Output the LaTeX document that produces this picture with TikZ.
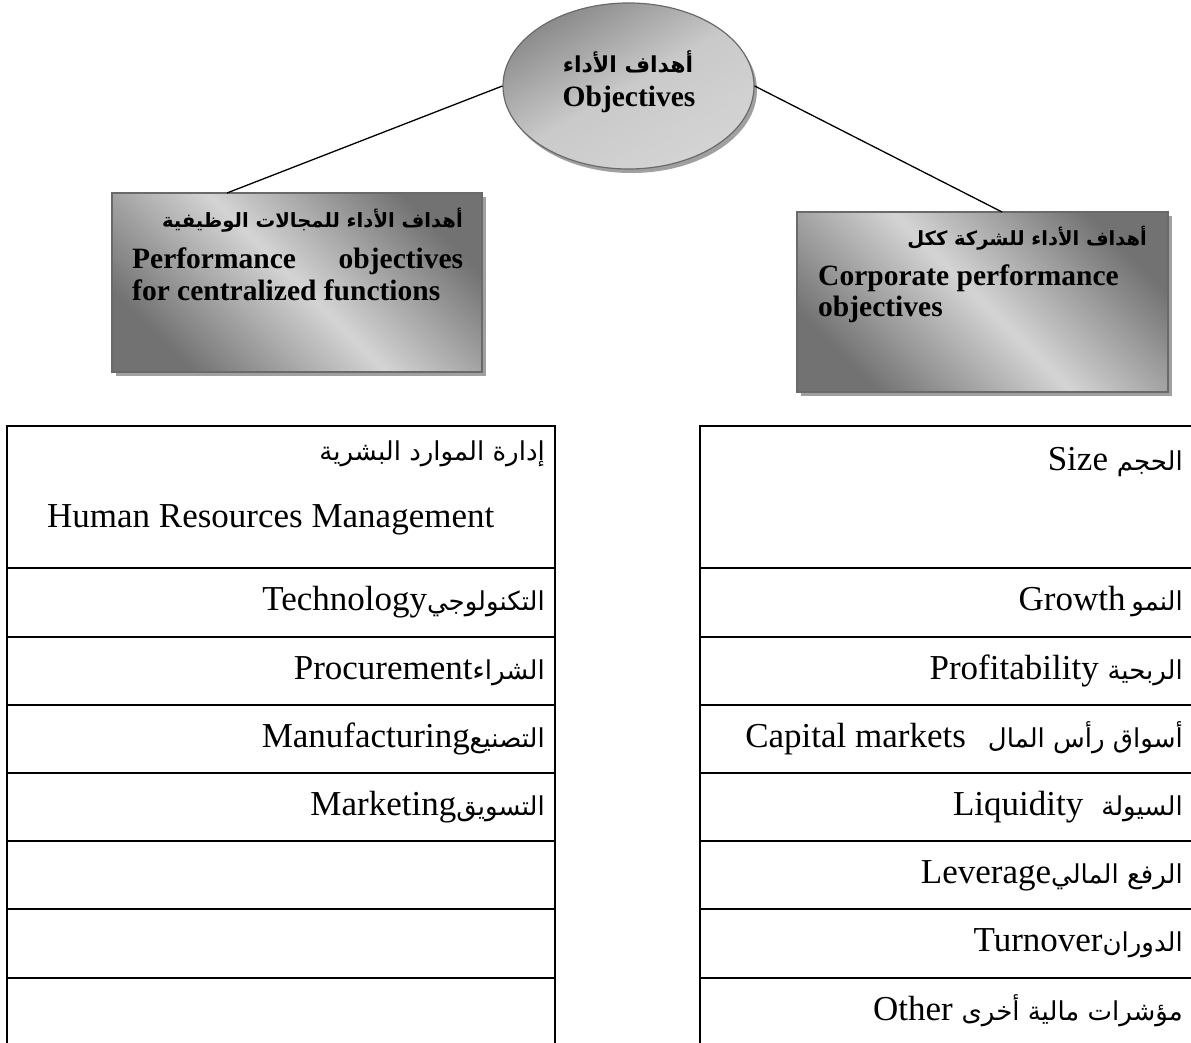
\documentclass[tikz,border=0pt]{standalone}
\usepackage{fontspec}
\setmainfont{Liberation Serif}
\newfontfamily\ar[Script=Arabic]{DejaVu Sans}
\TeXXeTstate=1
\usetikzlibrary{shadows,calc,shapes.geometric}
\definecolor{shdark}{HTML}{727272}
\definecolor{shlight}{HTML}{D4D4D4}
\definecolor{elldark}{HTML}{8A8A8A}
\definecolor{edgegray}{HTML}{6A6A6A}
\definecolor{shadowgray}{HTML}{A0A0A0}
\newcommand\arb[1]{\ar\bfseries\fontsize{#1}{#1}\selectfont}
\newcommand\artab{\ar\fontsize{26}{30}\selectfont}
\newcommand\enb{\bfseries\fontsize{29.5}{32}\selectfont}
\tikzset{
  gradbox/.style={draw=edgegray, line width=1.2pt, top color=shdark, bottom color=shdark,
    middle color=shlight, shading angle=-45, inner sep=0pt,
    drop shadow={shadow xshift=4pt, shadow yshift=-4pt, fill=shadowgray, opacity=1}},
  ellnode/.style={ellipse, draw=edgegray, line width=1.2pt, left color=elldark, right color=shlight,
    middle color=shlight!95!black, shading angle=30, inner sep=0pt, minimum width=251pt, minimum height=166pt,
    drop shadow={shadow xshift=3pt, shadow yshift=-4pt, fill=shadowgray, opacity=1}},
  conn/.style={line width=1.3pt, black},
  tabborder/.style={line width=2pt, black},
  rowline/.style={line width=1.6pt, black},
  hdtext/.style={inner sep=0pt, font=\enb},
  celltext/.style={inner sep=0pt, anchor=base east, font=\fontsize{35}{40}\selectfont},
}
\begin{document}
\begin{tikzpicture}[x=1pt,y=-1pt]
\useasboundingbox (0,0) rectangle (1191,1043);
% top ellipse
\node[ellnode] (obj) at (628.5,86) {};
\node[hdtext, anchor=base] (objar) at (628,73) {\arb{22}\beginR أهداف الأداء\endR};
\node[hdtext, anchor=base] (objen) at (629,107) {Objectives};
% boxes
\node[gradbox, minimum width=370pt, minimum height=179pt] (lbox) at (297,282.5) {};
\node[gradbox, minimum width=371pt, minimum height=180pt] (rbox) at (982.5,302) {};
\coordinate (lt) at (227,193);
\coordinate (rt) at (1002,212);
\draw[conn] (obj.west) -- (lt);
\draw[conn] (obj.east) -- (rt);
% left box text
\node[hdtext, anchor=base east] (lar) at (463,227) {\arb{19.6}\beginR أهداف الأداء للمجالات الوظيفية\endR};
\node[hdtext, anchor=base west] (len1) at (132,268) {\makebox[331pt]{Performance\hfill objectives}};
\node[hdtext, anchor=base west] (len2) at (132,300) {for centralized functions};
% right box text
\node[hdtext, anchor=base east] (rar) at (1147,245) {\arb{19.5}\beginR أهداف الأداء للشركة ككل\endR};
\node[hdtext, anchor=base west] (ren1) at (818,285) {Corporate performance};
\node[hdtext, anchor=base west] (ren2) at (818,316) {objectives};
% tables
\draw[tabborder] (7,426) rectangle (555,1047);
\draw[tabborder] (700,426) rectangle (1194,1047);
\foreach \yy in {568,637,705,773,841,909,978} {
  \draw[rowline] (7,\yy) -- (555,\yy);
  \draw[rowline] (700,\yy) -- (1194,\yy);
}
% left table text
\node[celltext] (l1a) at (545,460) {{\artab\beginR إدارة الموارد البشرية\endR}};
\node[celltext, anchor=base west] (l1b) at (47,527) {Human Resources Management};
\node[celltext] (l2) at (545,610) {Technology{\artab\beginR التكنولوجي\endR}};
\node[celltext] (l3) at (545,679) {Procurement{\artab\beginR الشراء\endR}};
\node[celltext] (l4) at (545,747) {Manufacturing{\artab\beginR التصنيع\endR}};
\node[celltext] (l5) at (545,815) {Marketing{\artab\beginR التسويق\endR}};
% right table text
\node[celltext] (r1) at (1183,470) {Size {\artab\beginR الحجم\endR}};
\node[celltext] (r2) at (1183,610) {Growth\,{\artab\beginR النمو\endR}};
\node[celltext] (r3) at (1183,679) {Profitability {\artab\beginR الربحية\endR}};
\node[celltext] (r4) at (1183,747) {Capital markets\hspace{22pt}{\artab\beginR أسواق رأس المال\endR}};
\node[celltext] (r5) at (1183,815) {Liquidity\hspace{18pt}{\artab\beginR السيولة\endR}};
\node[celltext] (r6) at (1183,883) {Leverage{\artab\beginR الرفع المالي\endR}};
\node[celltext] (r7) at (1183,951) {Turnover{\artab\beginR الدوران\endR}};
\node[celltext] (r8) at (1183,1020) {Other {\artab\beginR مؤشرات مالية أخرى\endR}};
\end{tikzpicture}
\end{document}
